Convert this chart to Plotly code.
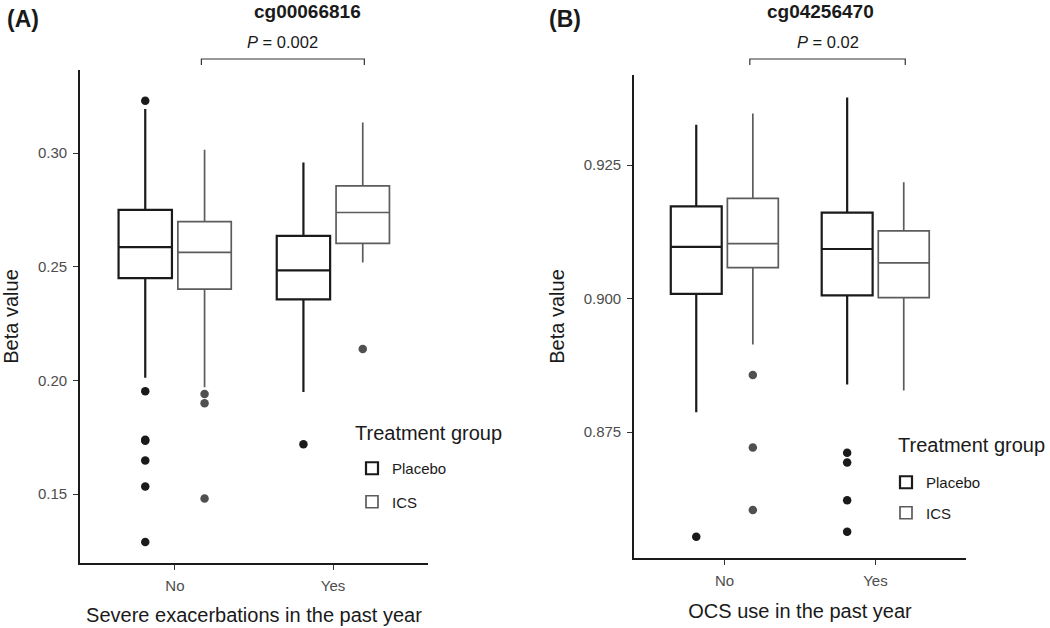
import plotly.graph_objects as go
import numpy as np

# ---------------- data ----------------
cats = ["No", "Yes"]
groups = ["Placebo", "ICS"]

# Panel A: cg00066816 vs severe exacerbations
a_placebo_q1 = [0.2450, 0.2357]
a_placebo_med = [0.2587, 0.2484]
a_placebo_q3 = [0.2751, 0.2636]
a_placebo_lo = [0.2012, 0.1949]
a_placebo_hi = [0.3194, 0.2959]
a_ics_q1 = [0.2402, 0.2603]
a_ics_med = [0.2564, 0.2739]
a_ics_q3 = [0.2699, 0.2856]
a_ics_lo = [0.1970, 0.2519]
a_ics_hi = [0.3015, 0.3135]
a_placebo_out = [[0.3231, 0.1953, 0.1739, 0.1735, 0.1648, 0.1534, 0.1289], [0.1719]]
a_ics_out = [[0.1941, 0.1900, 0.1481], [0.2139]]

# Panel B: cg04256470 vs OCS use
b_placebo_q1 = [0.9009, 0.9006]
b_placebo_med = [0.9097, 0.9093]
b_placebo_q3 = [0.9173, 0.9161]
b_placebo_lo = [0.8787, 0.8839]
b_placebo_hi = [0.9326, 0.9377]
b_ics_q1 = [0.9058, 0.9002]
b_ics_med = [0.9103, 0.9067]
b_ics_q3 = [0.9188, 0.9127]
b_ics_lo = [0.8914, 0.8828]
b_ics_hi = [0.9347, 0.9218]
b_placebo_out = [[0.8554], [0.8711, 0.8693, 0.8622, 0.8563]]
b_ics_out = [[0.8857, 0.8721, 0.8604], []]

a_ticks = [0.15, 0.20, 0.25, 0.30]
b_ticks = [0.875, 0.900, 0.925]
p_labels = ["0.002", "0.02"]
titles = ["cg00066816", "cg04256470"]
panel_tags = ["(A)", "(B)"]
x_titles = ["Severe exacerbations in the past year", "OCS use in the past year"]
legend_title = "Treatment group"

# ---------------- style ----------------
FONT = "Liberation Sans, Arial, Helvetica, sans-serif"
colors = {"Placebo": "#1a1a1a", "ICS": "#5c5c5c"}
pt_colors = {"Placebo": "#1a1a1a", "ICS": "#505050"}
lwidths = {"Placebo": 2.2, "ICS": 1.7}
dodge = {"Placebo": -0.1875, "ICS": 0.1875}
box_w = 0.3375
cat_pos = np.arange(len(cats)) + 1.0

fig = go.Figure()

panels = [
    dict(xa="x", ya="y", legend="legend",
         stats={"Placebo": (a_placebo_q1, a_placebo_med, a_placebo_q3, a_placebo_lo, a_placebo_hi),
                "ICS": (a_ics_q1, a_ics_med, a_ics_q3, a_ics_lo, a_ics_hi)},
         outs={"Placebo": a_placebo_out, "ICS": a_ics_out}),
    dict(xa="x2", ya="y2", legend="legend2",
         stats={"Placebo": (b_placebo_q1, b_placebo_med, b_placebo_q3, b_placebo_lo, b_placebo_hi),
                "ICS": (b_ics_q1, b_ics_med, b_ics_q3, b_ics_lo, b_ics_hi)},
         outs={"Placebo": b_placebo_out, "ICS": b_ics_out}),
]

for pi, p in enumerate(panels):
    for g in groups:
        q1, med, q3, lo, hi = p["stats"][g]
        xs = list(cat_pos + dodge[g])
        fig.add_trace(go.Box(
            x=xs, q1=q1, median=med, q3=q3, lowerfence=lo, upperfence=hi,
            width=box_w, name=g, fillcolor="white",
            line=dict(color=colors[g], width=lwidths[g]),
            whiskerwidth=0, boxpoints=False, hoverinfo="skip",
            xaxis=p["xa"], yaxis=p["ya"], legend=p["legend"],
            legendgroup=f"{pi}_{g}", showlegend=True,
        ))
        ox, oy = [], []
        for ci, vals in enumerate(p["outs"][g]):
            for v in vals:
                ox.append(cat_pos[ci] + dodge[g])
                oy.append(v)
        if oy:
            fig.add_trace(go.Scatter(
                x=ox, y=oy, mode="markers",
                marker=dict(color=pt_colors[g], size=8.5),
                xaxis=p["xa"], yaxis=p["ya"], showlegend=False,
                legendgroup=f"{pi}_{g}", hoverinfo="skip",
            ))

H = 628.0
W = 1050.0
title_font = dict(family=FONT, size=20, color="#1a1a1a")
axis_common = dict(showgrid=False, zeroline=False, showline=True, linecolor="#1a1a1a",
                   linewidth=1.6, ticks="outside", ticklen=5, tickwidth=1.2, tickcolor="#333333",
                   ticklabelstandoff=3,
                   tickfont=dict(family=FONT, size=15, color="#4d4d4d"), mirror=False)

xa_common = dict(axis_common, tickvals=list(cat_pos), ticktext=cats, range=[0.4, 2.6])

legend_common = dict(font=dict(family=FONT, size=15, color="#1a1a1a"),
                     xanchor="left", yanchor="top", bgcolor="rgba(0,0,0,0)")

fig.update_layout(
    width=1050, height=628,
    margin=dict(l=0, r=0, t=0, b=0),
    paper_bgcolor="white", plot_bgcolor="white",
    font=dict(family=FONT, color="#1a1a1a"),
    showlegend=True,
    xaxis=dict(xa_common, domain=[80 / W, 428 / W], anchor="y",
               title=dict(text=x_titles[0], font=title_font, standoff=15)),
    yaxis=dict(axis_common, domain=[(H - 563) / H, (H - 70) / H], anchor="x",
               range=[0.1197, 0.3366], tickvals=a_ticks, tickformat=".2f",
               title=dict(text="Beta value", font=title_font, standoff=17)),
    xaxis2=dict(xa_common, domain=[634 / W, 966 / W], anchor="y2",
                title=dict(text=x_titles[1], font=title_font, standoff=16)),
    yaxis2=dict(axis_common, domain=[(H - 558) / H, (H - 75) / H], anchor="x2",
                range=[0.8514, 0.9419], tickvals=b_ticks, tickformat=".3f",
                title=dict(text="Beta value", font=title_font, standoff=14)),
    legend=dict(legend_common, x=352 / W, y=(H - 452) / H, tracegroupgap=11),
    legend2=dict(legend_common, x=886 / W, y=(H - 466) / H, tracegroupgap=8),
)

# Legend titles, panel labels and titles
leg_title_pos = [(353, 433), (896, 445)]
title_x = [307, 820]
tag_x = [5, 547]
for i in range(2):
    lx, ly = leg_title_pos[i]
    fig.add_annotation(text=legend_title, x=lx / W, y=(H - ly) / H, xref="paper", yref="paper",
                       showarrow=False, xanchor="left", yanchor="middle", font=title_font)
    fig.add_annotation(text=f"<b>{titles[i]}</b>", x=title_x[i] / W, y=(H - 12) / H,
                       xref="paper", yref="paper", showarrow=False,
                       xanchor="center", yanchor="middle",
                       font=dict(family=FONT, size=19, color="#1a1a1a"))
    fig.add_annotation(text=f"<b>{panel_tags[i]}</b>", x=tag_x[i] / W, y=(H - 19) / H,
                       xref="paper", yref="paper", showarrow=False,
                       xanchor="left", yanchor="middle",
                       font=dict(family=FONT, size=23, color="#1a1a1a"))

# Significance brackets between ICS No and ICS Yes
for i, (xr, pl) in enumerate(zip(["x", "x2"], p_labels)):
    x0 = cat_pos[0] + dodge["ICS"] - 0.02
    x1 = cat_pos[1] + dodge["ICS"] + 0.01
    ytop = (H - 59) / H
    ybot = (H - 65) / H
    fig.add_shape(type="path", xref=xr, yref="paper",
                  path=f"M {x0},{ybot} L {x0},{ytop} L {x1},{ytop} L {x1},{ybot}",
                  line=dict(color="#333333", width=1.2))
    fig.add_annotation(text=f"<i>P</i> = {pl}", x=(x0 + x1) / 2, xref=xr,
                       y=(H - 42) / H, yref="paper", showarrow=False,
                       xanchor="center", yanchor="middle",
                       font=dict(family=FONT, size=16.5, color="#1a1a1a"))

fig.write_html("out.html", config={"displayModeBar": False},
               post_script="document.body.style.margin='0';")
